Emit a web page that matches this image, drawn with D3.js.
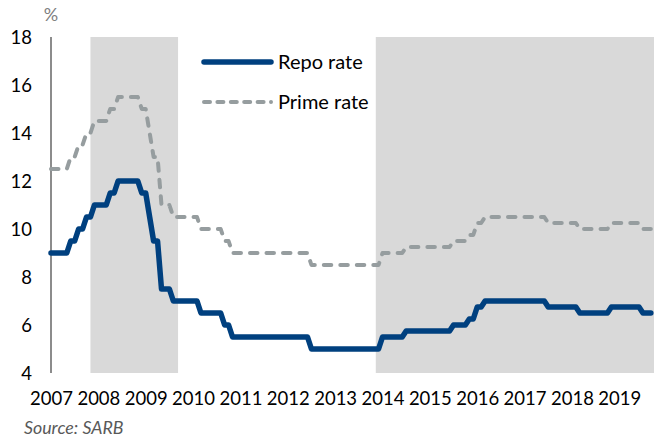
<!DOCTYPE html>
<html>
<head>
<meta charset="utf-8">
<script src="https://cdn.jsdelivr.net/npm/d3@7"></script>
<style>
  html, body { margin: 0; padding: 0; background: #fff; }
  svg text { font-family: Lato, "Liberation Sans", sans-serif; }
</style>
</head>
<body>
<svg id="chart" width="654" height="438"></svg>
<script>
// Monthly policy rates, January 2007 to September 2019 (one row per year)
const startYear = 2007;
const repoRate = [
  9, 9, 9, 9, 9, 9.5, 9.5, 10, 10, 10.5, 10.5, 11,            // 2007
  11, 11, 11, 11.5, 11.5, 12, 12, 12, 12, 12, 12, 11.5,       // 2008
  11.5, 10.5, 9.5, 9.5, 7.5, 7.5, 7.5, 7, 7, 7, 7, 7,         // 2009
  7, 7, 6.5, 6.5, 6.5, 6.5, 6.5, 6.5, 6, 6, 5.5, 5.5,         // 2010
  5.5, 5.5, 5.5, 5.5, 5.5, 5.5, 5.5, 5.5, 5.5, 5.5, 5.5, 5.5, // 2011
  5.5, 5.5, 5.5, 5.5, 5.5, 5.5, 5, 5, 5, 5, 5, 5,             // 2012
  5, 5, 5, 5, 5, 5, 5, 5, 5, 5, 5, 5,                         // 2013
  5.5, 5.5, 5.5, 5.5, 5.5, 5.5, 5.75, 5.75, 5.75, 5.75, 5.75, 5.75, // 2014
  5.75, 5.75, 5.75, 5.75, 5.75, 5.75, 6, 6, 6, 6, 6.25, 6.25, // 2015
  6.75, 6.75, 7, 7, 7, 7, 7, 7, 7, 7, 7, 7,                   // 2016
  7, 7, 7, 7, 7, 7, 6.75, 6.75, 6.75, 6.75, 6.75, 6.75,       // 2017
  6.75, 6.75, 6.5, 6.5, 6.5, 6.5, 6.5, 6.5, 6.5, 6.5, 6.75, 6.75, // 2018
  6.75, 6.75, 6.75, 6.75, 6.75, 6.75, 6.5, 6.5, 6.5           // 2019
];
const primeRate = [
  12.5, 12.5, 12.5, 12.5, 12.5, 13, 13, 13.5, 13.5, 14, 14, 14.5,       // 2007
  14.5, 14.5, 14.5, 15, 15, 15.5, 15.5, 15.5, 15.5, 15.5, 15.5, 15,     // 2008
  15, 14, 13, 13, 11, 11, 11, 10.5, 10.5, 10.5, 10.5, 10.5,             // 2009
  10.5, 10.5, 10, 10, 10, 10, 10, 10, 9.5, 9.5, 9, 9,                   // 2010
  9, 9, 9, 9, 9, 9, 9, 9, 9, 9, 9, 9,                                   // 2011
  9, 9, 9, 9, 9, 9, 8.5, 8.5, 8.5, 8.5, 8.5, 8.5,                       // 2012
  8.5, 8.5, 8.5, 8.5, 8.5, 8.5, 8.5, 8.5, 8.5, 8.5, 8.5, 8.5,           // 2013
  9, 9, 9, 9, 9, 9, 9.25, 9.25, 9.25, 9.25, 9.25, 9.25,                 // 2014
  9.25, 9.25, 9.25, 9.25, 9.25, 9.25, 9.5, 9.5, 9.5, 9.5, 9.75, 9.75,   // 2015
  10.25, 10.25, 10.5, 10.5, 10.5, 10.5, 10.5, 10.5, 10.5, 10.5, 10.5, 10.5, // 2016
  10.5, 10.5, 10.5, 10.5, 10.5, 10.5, 10.25, 10.25, 10.25, 10.25, 10.25, 10.25, // 2017
  10.25, 10.25, 10, 10, 10, 10, 10, 10, 10, 10, 10.25, 10.25,           // 2018
  10.25, 10.25, 10.25, 10.25, 10.25, 10.25, 10, 10, 10                  // 2019
];
// Shaded downswing phases of the business cycle (month offsets from Jan 2007)
const shadedStart = [10, 82.3];
const shadedEnd = [32.2, 152.8];
const yearLabels = ["2007", "2008", "2009", "2010", "2011", "2012", "2013",
                    "2014", "2015", "2016", "2017", "2018", "2019"];
const yTicks = [4, 6, 8, 10, 12, 14, 16, 18];
const seriesNames = ["Repo rate", "Prime rate"];

const svg = d3.select("#chart");

const x = d3.scaleLinear().domain([0, 152.8]).range([51, 654]);
const y = d3.scaleLinear().domain([4, 18]).range([373, 37]);

// Shaded periods
svg.append("g").selectAll("rect")
  .data(shadedStart.map((s, i) => [s, shadedEnd[i]]))
  .join("rect")
  .attr("x", d => x(d[0]))
  .attr("width", d => x(d[1]) - x(d[0]))
  .attr("y", y(18))
  .attr("height", y(4) - y(18))
  .attr("fill", "#d9d9d9");

// Y axis: labels only, with a vertical axis line
const yAxis = svg.append("g")
  .attr("transform", "translate(32,0)")
  .call(d3.axisLeft(y).tickValues(yTicks).tickSize(0).tickPadding(0).tickFormat(d3.format("d")));
yAxis.select(".domain").remove();
yAxis.selectAll("text")
  .attr("x", 0)
  .attr("dy", "0.36em")
  .attr("font-size", 18.5)
  .attr("fill", "#000")
  .style("font-family", "Lato, 'Liberation Sans', sans-serif");

svg.append("line")
  .attr("x1", x(0)).attr("x2", x(0))
  .attr("y1", y(18)).attr("y2", y(4))
  .attr("stroke", "#8c8c8c")
  .attr("stroke-width", 2);

// X axis: one label per January
const xAxis = svg.append("g")
  .attr("transform", "translate(0,392)")
  .call(d3.axisBottom(x)
    .tickValues(yearLabels.map((_, i) => i * 12))
    .tickSize(0).tickPadding(0)
    .tickFormat((d, i) => yearLabels[i]));
xAxis.select(".domain").remove();
xAxis.selectAll("text")
  .attr("y", 0)
  .attr("dy", "0.71em")
  .attr("font-size", 18.5)
  .attr("fill", "#000")
  .style("font-family", "Lato, 'Liberation Sans', sans-serif");

// Lines
const line = d3.line()
  .x((d, i) => x(i))
  .y(d => y(d));

svg.append("path")
  .datum(primeRate)
  .attr("d", line)
  .attr("fill", "none")
  .attr("stroke", "#969d9f")
  .attr("stroke-width", 4)
  .attr("stroke-linecap", "round")
  .attr("stroke-linejoin", "round")
  .attr("stroke-dasharray", "7.5 9");

svg.append("path")
  .datum(repoRate)
  .attr("d", line)
  .attr("fill", "none")
  .attr("stroke", "#00407f")
  .attr("stroke-width", 5.5)
  .attr("stroke-linecap", "round")
  .attr("stroke-linejoin", "round");

// Legend
const legend = svg.append("g");
const legendY = [62, 102];
legend.append("line")
  .attr("x1", 204).attr("x2", 271)
  .attr("y1", legendY[0]).attr("y2", legendY[0])
  .attr("stroke", "#00407f").attr("stroke-width", 5.5)
  .attr("stroke-linecap", "round");
legend.append("line")
  .attr("x1", 204).attr("x2", 271)
  .attr("y1", legendY[1]).attr("y2", legendY[1])
  .attr("stroke", "#969d9f").attr("stroke-width", 4)
  .attr("stroke-linecap", "round")
  .attr("stroke-dasharray", "6 7.4");
legend.selectAll("text")
  .data(seriesNames)
  .join("text")
  .attr("x", 278)
  .attr("y", (d, i) => legendY[i])
  .attr("dy", "0.36em")
  .attr("font-size", 20)
  .attr("fill", "#000")
  .text(d => d);

// Unit label and source note
svg.append("text")
  .attr("x", 51).attr("y", 15)
  .attr("dy", "0.36em")
  .attr("text-anchor", "middle")
  .attr("font-size", 18)
  .attr("fill", "#808080")
  .text("%");

svg.append("text")
  .attr("x", 24).attr("y", 434)
  .attr("font-size", 17.8)
  .attr("font-style", "italic")
  .attr("fill", "#595959")
  .text("Source: SARB");
</script>
</body>
</html>
